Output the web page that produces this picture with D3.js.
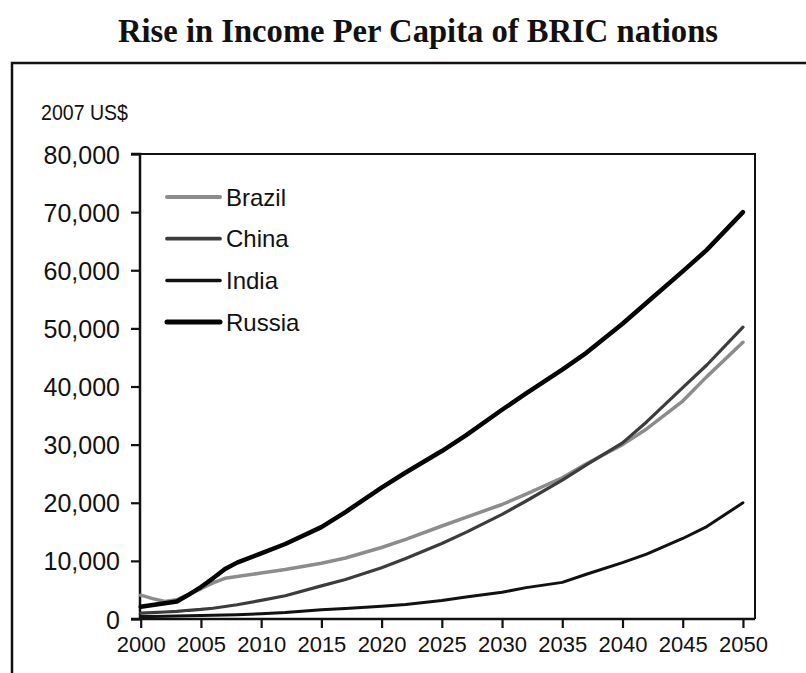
<!DOCTYPE html>
<html>
<head>
<meta charset="utf-8">
<script src="https://cdn.jsdelivr.net/npm/d3@7"></script>
<style>
  html, body { margin: 0; padding: 0; background: #fff; }
  svg { display: block; }
</style>
</head>
<body>
<svg id="chart" width="806" height="673"></svg>
<script>
// Income per capita projections, 2007 US$
const years = [2000, 2001, 2002, 2003, 2004, 2005, 2006, 2007, 2008, 2010, 2012, 2015, 2017,
               2020, 2022, 2025, 2027, 2030, 2032, 2035, 2037, 2040, 2042, 2045, 2047, 2050];

const brazil = [4100, 3500, 3000, 3300, 4300, 5200, 6200, 7000, 7300, 7900, 8500, 9600, 10500,
                12300, 13700, 16000, 17500, 19700, 21500, 24300, 26700, 30000, 32700, 37500, 41700, 47600];
const china  = [1000, 1100, 1200, 1300, 1500, 1650, 1850, 2150, 2450, 3200, 4000, 5700, 6800,
                8800, 10400, 13000, 14900, 18000, 20300, 23900, 26500, 30300, 33900, 39800, 43700, 50200];
const india  = [450, 450, 480, 500, 550, 600, 650, 700, 750, 900, 1100, 1600, 1800,
                2200, 2500, 3200, 3800, 4600, 5400, 6300, 7700, 9700, 11150, 13850, 15900, 20000];
const russia = [2100, 2400, 2700, 3000, 4200, 5500, 7000, 8600, 9700, 11300, 12900, 15800, 18400,
                22600, 25200, 28900, 31600, 36000, 38800, 42900, 45800, 50800, 54400, 59800, 63500, 70000];

const seriesNames = ["Brazil", "China", "India", "Russia"];
const seriesValues = [brazil, china, india, russia];
const seriesColors = ["#8c8c8c", "#3c3c3c", "#111111", "#050505"];
const seriesWidths = [3.5, 3.2, 3, 4.5];

const xTicks = [2000, 2005, 2010, 2015, 2020, 2025, 2030, 2035, 2040, 2045, 2050];
const yTicks = [0, 10000, 20000, 30000, 40000, 50000, 60000, 70000, 80000];

const title = "Rise in Income Per Capita of BRIC nations";
const unitLabel = "2007 US$";

const svg = d3.select("#chart");

// Plot area
const plot = { left: 140, right: 755, top: 154, bottom: 619 };

const x = d3.scaleLinear().domain([2000, 2051]).range([plot.left + 0.7, plot.right]);
const y = d3.scaleLinear().domain([0, 80000]).range([plot.bottom, plot.top]);

// Title
svg.append("text")
  .attr("x", 418).attr("y", 42)
  .attr("text-anchor", "middle")
  .attr("font-family", "'Liberation Serif', 'DejaVu Serif', serif")
  .attr("font-weight", "bold")
  .attr("font-size", 34)
  .attr("textLength", 600)
  .attr("lengthAdjust", "spacingAndGlyphs")
  .attr("fill", "#111")
  .text(title);

// Outer frame (runs past the right and bottom edges)
svg.append("path")
  .attr("d", "M12,690 V63 H820")
  .attr("fill", "none")
  .attr("stroke", "#111")
  .attr("stroke-width", 2.5);

// Unit label
svg.append("text")
  .attr("x", 41).attr("y", 120)
  .attr("font-family", "'Liberation Sans', Arial, sans-serif")
  .attr("font-size", 22)
  .attr("textLength", 87)
  .attr("lengthAdjust", "spacingAndGlyphs")
  .attr("fill", "#111")
  .text(unitLabel);

// Top and right borders of the plot area
svg.append("path")
  .attr("d", `M${plot.left},${plot.top} H${plot.right} V${plot.bottom}`)
  .attr("fill", "none")
  .attr("stroke", "#111")
  .attr("stroke-width", 2);

// Axes
const fmt = d3.format(",");
const yAxis = d3.axisLeft(y).tickValues(yTicks).tickFormat(fmt).tickSize(9).tickPadding(11);
const xAxis = d3.axisBottom(x).tickValues(xTicks).tickFormat(d3.format("d")).tickSize(9).tickPadding(6);

const gy = svg.append("g").attr("transform", `translate(${plot.left},0)`).call(yAxis);
const gx = svg.append("g").attr("transform", `translate(0,${plot.bottom})`).call(xAxis);

[gx, gy].forEach(g => {
  g.select(".domain").attr("stroke", "#111").attr("stroke-width", 2.5);
  g.selectAll(".tick line").attr("stroke", "#111").attr("stroke-width", 2.2);
  g.selectAll(".tick text")
    .attr("fill", "#111")
    .attr("font-family", "'Liberation Sans', Arial, sans-serif");
});
gy.select(".domain").attr("d", `M-9,${plot.top}H0V${plot.bottom}H-9`);
gx.select(".domain").attr("d", `M${plot.left},0H${plot.right}`);
gy.selectAll(".tick text").attr("font-size", 25).attr("dy", "0.36em");
gx.selectAll(".tick text").attr("font-size", 22).attr("dy", "0.82em");

// Series lines
const line = d3.line()
  .x((d, i) => x(years[i]))
  .y(d => y(d));

seriesValues.forEach((vals, k) => {
  svg.append("path")
    .datum(vals)
    .attr("d", line)
    .attr("fill", "none")
    .attr("stroke", seriesColors[k])
    .attr("stroke-width", seriesWidths[k])
    .attr("stroke-linejoin", "round")
    .attr("stroke-linecap", "round");
});

// Legend
const legend = svg.append("g").attr("transform", "translate(167,197)");
seriesNames.forEach((name, k) => {
  const row = legend.append("g").attr("transform", `translate(0,${k * 41.7})`);
  row.append("line")
    .attr("x1", 0).attr("x2", 53)
    .attr("stroke", seriesColors[k])
    .attr("stroke-width", seriesWidths[k] + 0.5)
    .attr("stroke-linecap", "round");
  row.append("text")
    .attr("x", 59).attr("dy", "0.36em")
    .attr("font-family", "'Liberation Sans', Arial, sans-serif")
    .attr("font-size", 24)
    .attr("fill", "#111")
    .text(name);
});
</script>
</body>
</html>
